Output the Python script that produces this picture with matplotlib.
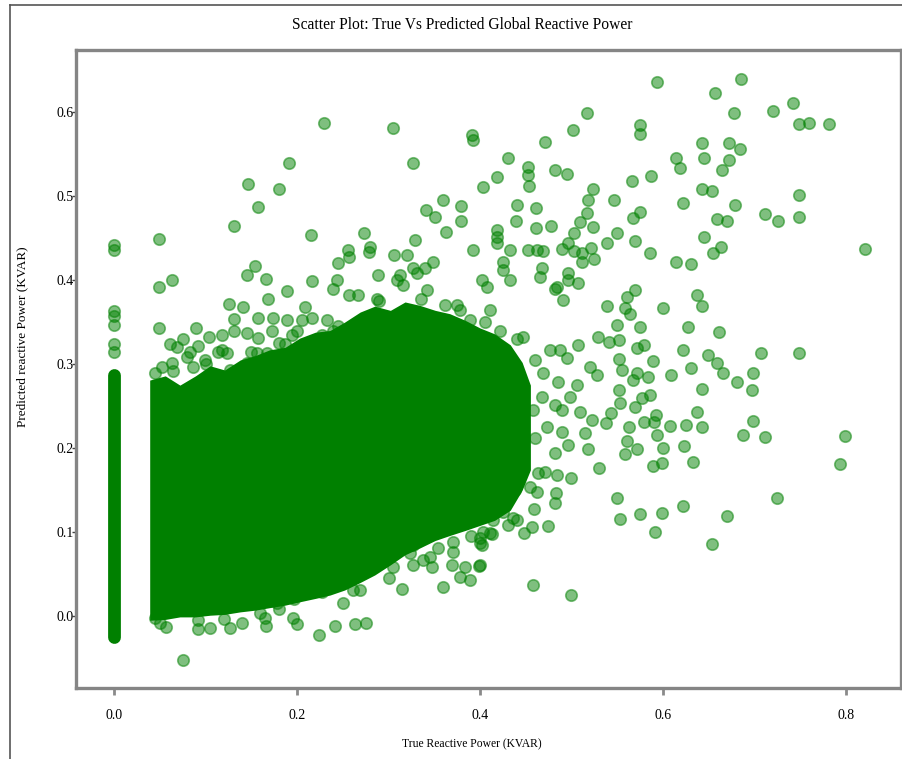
import matplotlib
matplotlib.use('Agg')
from matplotlib import pyplot as plt
from matplotlib.lines import Line2D

# scattered points (true, predicted)
outer_x = [0.593, 0.685, 0.657, 0.517, 0.678, 0.720, 0.742, 0.575, 0.575, 0.502, 0.471, 0.749, 0.760, 0.781,
           0.643, 0.645, 0.672, 0.684, 0.672, 0.664, 0.614, 0.619, 0.430, 0.452, 0.452, 0.454, 0.482, 0.495,
           0.587, 0.566, 0.523, 0.518, 0.517, 0.509, 0.546, 0.622, 0.643, 0.654, 0.679, 0.748, 0.711, 0.726,
           0.748, 0.659, 0.670, 0.440, 0.461, 0.439, 0.461, 0.478, 0.567, 0.575, 0.523, 0.503, 0.550, 0.645,
           0.569, 0.539, 0.586, 0.655, 0.663, 0.614, 0.631, 0.821, 0.433, 0.452, 0.462, 0.469, 0.489, 0.496,
           0.503, 0.511, 0.511, 0.521, 0.525, 0.425, 0.468, 0.496, 0.496, 0.637, 0.643, 0.600, 0.627, 0.661,
           0.569, 0.561, 0.558, 0.564, 0.575, 0.622, 0.649, 0.707, 0.748, 0.482, 0.539, 0.550, 0.507]
outer_y = [0.636, 0.639, 0.623, 0.599, 0.599, 0.601, 0.611, 0.585, 0.574, 0.579, 0.565, 0.586, 0.587, 0.586,
           0.563, 0.546, 0.563, 0.556, 0.543, 0.531, 0.546, 0.533, 0.546, 0.535, 0.525, 0.512, 0.531, 0.526,
           0.524, 0.518, 0.508, 0.495, 0.480, 0.469, 0.496, 0.492, 0.508, 0.506, 0.489, 0.501, 0.479, 0.471,
           0.475, 0.473, 0.471, 0.490, 0.486, 0.471, 0.462, 0.465, 0.474, 0.481, 0.463, 0.456, 0.456, 0.451,
           0.446, 0.444, 0.432, 0.432, 0.440, 0.421, 0.419, 0.437, 0.436, 0.436, 0.436, 0.435, 0.437, 0.444,
           0.435, 0.432, 0.421, 0.438, 0.425, 0.421, 0.415, 0.408, 0.400, 0.382, 0.369, 0.367, 0.344, 0.338,
           0.388, 0.380, 0.367, 0.360, 0.344, 0.317, 0.311, 0.313, 0.313, 0.390, 0.369, 0.346, 0.323]

right_x = [0.659, 0.666, 0.631, 0.609, 0.589, 0.642, 0.681, 0.698, 0.697, 0.637, 0.625, 0.643, 0.608, 0.698,
           0.687, 0.711, 0.799, 0.793, 0.623, 0.633, 0.600, 0.599, 0.589, 0.592, 0.590, 0.593, 0.579, 0.563,
           0.561, 0.558, 0.572, 0.724, 0.550, 0.553, 0.575, 0.599, 0.622, 0.670, 0.591, 0.654, 0.530, 0.518,
           0.515, 0.538, 0.543, 0.499, 0.482, 0.483, 0.474, 0.459, 0.462, 0.448, 0.457, 0.496, 0.482, 0.509,
           0.522, 0.569, 0.577, 0.586, 0.552, 0.553, 0.583, 0.567, 0.572, 0.552, 0.555, 0.528, 0.520, 0.529,
           0.541, 0.552, 0.572, 0.579,
           0.433, 0.430, 0.444, 0.458, 0.468, 0.469, 0.460, 0.447, 0.487, 0.495, 0.476, 0.485, 0.506, 0.498,
           0.490, 0.482, 0.473, 0.490, 0.460, 0.447, 0.440, 0.435, 0.444, 0.463, 0.471, 0.484, 0.455, 0.438,
           0.430, 0.425, 0.436, 0.414, 0.411, 0.400, 0.400]
right_y = [0.301, 0.290, 0.295, 0.287, 0.304, 0.270, 0.279, 0.290, 0.269, 0.243, 0.227, 0.225, 0.226, 0.232,
           0.215, 0.213, 0.214, 0.181, 0.202, 0.183, 0.200, 0.182, 0.179, 0.239, 0.231, 0.215, 0.231, 0.225,
           0.208, 0.193, 0.199, 0.140, 0.140, 0.115, 0.121, 0.123, 0.131, 0.119, 0.100, 0.086, 0.176, 0.199,
           0.218, 0.230, 0.242, 0.164, 0.135, 0.146, 0.107, 0.127, 0.148, 0.099, 0.106, 0.204, 0.194, 0.243,
           0.233, 0.249, 0.260, 0.263, 0.269, 0.254, 0.285, 0.281, 0.290, 0.306, 0.293, 0.287, 0.296, 0.332,
           0.326, 0.329, 0.319, 0.323,
           0.263, 0.239, 0.245, 0.245, 0.261, 0.289, 0.305, 0.332, 0.317, 0.307, 0.317, 0.279, 0.275, 0.261,
           0.245, 0.251, 0.225, 0.219, 0.212, 0.204, 0.218, 0.189, 0.182, 0.170, 0.171, 0.168, 0.154, 0.150,
           0.154, 0.124, 0.117, 0.114, 0.099, 0.087, 0.061]

low_x = [0.075, 0.057, 0.092, 0.105, 0.127, 0.140, 0.166, 0.165, 0.196, 0.200, 0.224, 0.242, 0.263, 0.275,
         0.197, 0.261, 0.269, 0.315, 0.360, 0.458, 0.499, 0.369, 0.384, 0.399, 0.378, 0.389, 0.348, 0.327,
         0.327, 0.354, 0.370, 0.370, 0.400, 0.402, 0.413, 0.403, 0.440, 0.227, 0.216, 0.178, 0.160, 0.092,
         0.045, 0.255, 0.272, 0.294, 0.305, 0.323, 0.338, 0.244, 0.222, 0.207,
         0.050, 0.120, 0.180, 0.250, 0.300, 0.345, 0.390, 0.430]
low_y = [-0.052, -0.013, -0.015, -0.014, -0.014, -0.008, -0.012, -0.002, -0.002, -0.010, -0.023, -0.012,
         -0.010, -0.008, 0.020, 0.031, 0.031, 0.032, 0.035, 0.037, 0.025, 0.061, 0.058, 0.060, 0.046, 0.043,
         0.058, 0.085, 0.061, 0.081, 0.088, 0.076, 0.093, 0.085, 0.098, 0.100, 0.114, 0.029, 0.031, 0.015,
         0.004, -0.005, -0.002, 0.058, 0.070, 0.075, 0.058, 0.075, 0.067, 0.043, 0.035, 0.035,
         -0.008, -0.003, 0.008, 0.015, 0.045, 0.070, 0.095, 0.108]

top_x = [0.230, 0.305, 0.391, 0.392, 0.327, 0.191, 0.146, 0.180, 0.157, 0.131, 0.049, 0.419, 0.403, 0.360,
         0.379, 0.379, 0.341, 0.351, 0.363, 0.215, 0.273, 0.280, 0.279, 0.329, 0.419, 0.419, 0.419, 0.256,
         0.257, 0.306, 0.320, 0.392, 0.245, 0.244, 0.239, 0.154, 0.145, 0.166, 0.216, 0.289, 0.049, 0.063,
         0.189, 0.168, 0.257, 0.267, 0.287, 0.126, 0.141, 0.309, 0.316, 0.327, 0.331, 0.340, 0.349, 0.049,
         0.209, 0.216,
         0.090, 0.104, 0.118, 0.131, 0.131, 0.061, 0.075, 0.069, 0.157, 0.174, 0.189, 0.200, 0.205, 0.145,
         0.157, 0.173, 0.187, 0.195, 0.114, 0.118, 0.052, 0.063, 0.092, 0.083, 0.080, 0.086, 0.099, 0.123,
         0.127, 0.145, 0.156, 0.167, 0.174, 0.200, 0.207, 0.214, 0.227, 0.233, 0.239,
         0.313, 0.342, 0.402, 0.408, 0.425, 0.433, 0.466, 0.484, 0.491, 0.507, 0.362, 0.378, 0.389, 0.373,
         0.411, 0.422,
         0.045, 0.065, 0.100, 0.150, 0.180, 0.245, 0.290, 0.335, 0.375, 0.405, 0.440]
top_y = [0.587, 0.581, 0.573, 0.567, 0.540, 0.540, 0.515, 0.508, 0.487, 0.464, 0.449, 0.523, 0.511, 0.495,
         0.488, 0.471, 0.483, 0.475, 0.457, 0.454, 0.456, 0.440, 0.433, 0.448, 0.460, 0.451, 0.444, 0.436,
         0.427, 0.430, 0.430, 0.436, 0.420, 0.400, 0.390, 0.417, 0.406, 0.401, 0.399, 0.406, 0.392, 0.400,
         0.387, 0.377, 0.382, 0.382, 0.377, 0.371, 0.368, 0.400, 0.394, 0.414, 0.408, 0.415, 0.421, 0.343,
         0.368, 0.355,
         0.343, 0.332, 0.335, 0.354, 0.340, 0.324, 0.330, 0.320, 0.355, 0.355, 0.352, 0.340, 0.352, 0.337,
         0.331, 0.340, 0.324, 0.335, 0.314, 0.317, 0.296, 0.301, 0.321, 0.314, 0.308, 0.296, 0.305, 0.313,
         0.293, 0.301, 0.313, 0.313, 0.305, 0.305, 0.313, 0.296, 0.335, 0.352, 0.340,
         0.406, 0.388, 0.400, 0.392, 0.412, 0.400, 0.404, 0.392, 0.376, 0.396, 0.370, 0.364, 0.352, 0.346,
         0.364, 0.340,
         0.290, 0.292, 0.300, 0.315, 0.325, 0.345, 0.375, 0.378, 0.370, 0.350, 0.330]

# samples with true value 0: a packed column plus a few stray ones
zero_lo, zero_hi = -0.025, 0.287
zero_extra_y = [0.442, 0.436, 0.363, 0.357, 0.346, 0.324, 0.315]

# outline of the solid (fully overlapped) core
core_x = [0.039, 0.056, 0.072, 0.089, 0.105, 0.121, 0.138, 0.154, 0.170, 0.187, 0.203, 0.220, 0.236,
          0.252, 0.269, 0.285, 0.302, 0.318, 0.334, 0.351, 0.367, 0.384, 0.400, 0.416, 0.433, 0.446, 0.455]
core_top = [0.281, 0.286, 0.275, 0.286, 0.298, 0.293, 0.305, 0.310, 0.317, 0.320, 0.331, 0.338, 0.340,
            0.350, 0.362, 0.369, 0.364, 0.374, 0.370, 0.364, 0.360, 0.352, 0.343, 0.336, 0.323, 0.302, 0.275]
core_bot = [-0.005, -0.004, -0.001, -0.001, 0.001, 0.002, 0.005, 0.007, 0.010, 0.013, 0.017, 0.021, 0.025,
            0.031, 0.040, 0.049, 0.061, 0.073, 0.081, 0.090, 0.096, 0.102, 0.108, 0.114, 0.126, 0.150, 0.174]

xs = outer_x + right_x + low_x + top_x + [0.0] * len(zero_extra_y)
ys = outer_y + right_y + low_y + top_y + zero_extra_y

plt.rcParams['font.family'] = ['Liberation Serif', 'DejaVu Serif']

fig = plt.figure(figsize=(9.02, 7.59), dpi=100)
ax = fig.add_axes([0.0843, 0.0935, 0.9146, 0.8406])

ax.fill_between(core_x, core_bot, core_top, color='green', linewidth=0, zorder=1)
ax.plot([0, 0], [zero_lo, zero_hi], color='green', lw=9.2, solid_capstyle='round', zorder=1)
ax.scatter(xs, ys, s=68, color='green', alpha=0.5, linewidths=1.2, zorder=2)

ax.set_xlim(-0.0415, 0.860)
ax.set_ylim(-0.0857, 0.674)

ax.set_xticks([0.0, 0.2, 0.4, 0.6, 0.8])
ax.set_xticklabels(['0.0', '0.2', '0.4', '0.6', '0.8'])
ax.set_yticks([0.0, 0.1, 0.2, 0.3, 0.4, 0.5, 0.6])
ax.set_yticklabels(['0.0', '0.1', '0.2', '0.3', '0.4', '0.5', '0.6'])
ax.tick_params(axis='x', length=5, width=2, color='#8a8a8a', pad=10, labelsize=10)
ax.tick_params(axis='y', length=3, width=1, color='#444444', pad=-1, labelsize=10)

for side in ['left', 'right', 'top', 'bottom']:
    ax.spines[side].set_color('#858585')
    ax.spines[side].set_linewidth(2.4)

fig.text(0.513, 0.967, 'Scatter Plot: True Vs Predicted Global Reactive Power', ha='center', va='center', fontsize=11.2)
fig.text(0.523, 0.019, 'True Reactive Power (KVAR)', ha='center', va='center', fontsize=8.4)
fig.text(0.025, 0.557, 'Predicted reactive Power (KVAR)', ha='center', va='center', rotation=90, fontsize=9.5)

# thin frame around the figure (only left and top survive the crop)
fig.add_artist(Line2D([0.0111, 0.0111], [0, 0.9934], transform=fig.transFigure, color='#555555', lw=1.2))
fig.add_artist(Line2D([0.0111, 1], [0.9934, 0.9934], transform=fig.transFigure, color='#555555', lw=1.2))

fig.savefig('out.png', dpi=100)
